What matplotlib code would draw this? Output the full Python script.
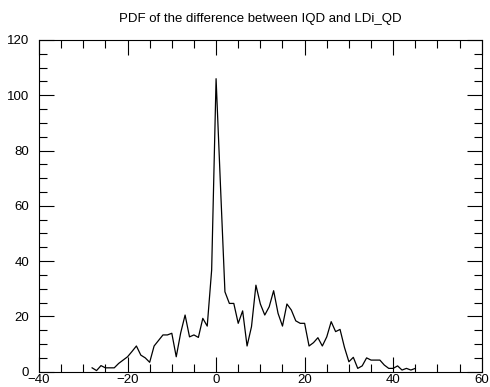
import matplotlib
matplotlib.use("Agg")
import matplotlib.pyplot as plt
from matplotlib.ticker import MultipleLocator

plt.rcParams['font.family'] = ['Liberation Sans', 'DejaVu Sans']

# difference (bins) and pdf values
diff = list(range(-28, 46))
pdf = [1.4, 0.4, 2.2, 1.4, 1.4, 1.4, 3.0, 4.2, 5.4, 7.3,
       9.3, 6.0, 5.0, 3.4, 9.3, 11.3, 13.3, 13.3, 13.9, 5.4,
       14.0, 20.5, 12.6, 13.3, 12.4, 19.3, 16.5, 36.8, 106.0, 67.0,
       28.9, 24.7, 24.7, 17.5, 22.0, 9.3, 16.3, 31.3, 24.5, 20.5,
       23.5, 29.3, 21.1, 16.5, 24.5, 22.3, 18.4, 17.5, 17.5, 9.3,
       10.5, 12.3, 9.3, 12.6, 18.1, 14.5, 15.3, 8.8, 3.6, 5.2,
       1.2, 2.1, 5.0, 4.2, 4.2, 4.2, 2.4, 1.2, 1.2, 2.1,
       0.6, 1.2, 0.6, 1.2]

fig = plt.figure(figsize=(4.9, 3.87), dpi=100)
ax = fig.add_axes([39/490, 1-371.7/387, (481.7-39)/490, (371.7-40)/387])
ax.plot(diff, pdf, color="black", lw=0.9)

ax.set_xlim(-40, 60)
ax.set_ylim(0, 120)
ax.xaxis.set_major_locator(MultipleLocator(20))
ax.xaxis.set_minor_locator(MultipleLocator(5))
ax.yaxis.set_major_locator(MultipleLocator(20))
ax.yaxis.set_minor_locator(MultipleLocator(5))
ax.tick_params(which="both", direction="in", top=True, right=True,
               width=0.8, labelsize=9.5)
ax.tick_params(which="major", length=11)
ax.tick_params(which="minor", length=5.5)
ax.tick_params(axis="x", pad=1.5)
ax.tick_params(axis="y", pad=7)
for s in ax.spines.values():
    s.set_linewidth(0.8)

ax.set_title("PDF of the difference between IQD and LDi_QD", fontsize=9.5, pad=13)

fig.savefig("out.png", dpi=100)
